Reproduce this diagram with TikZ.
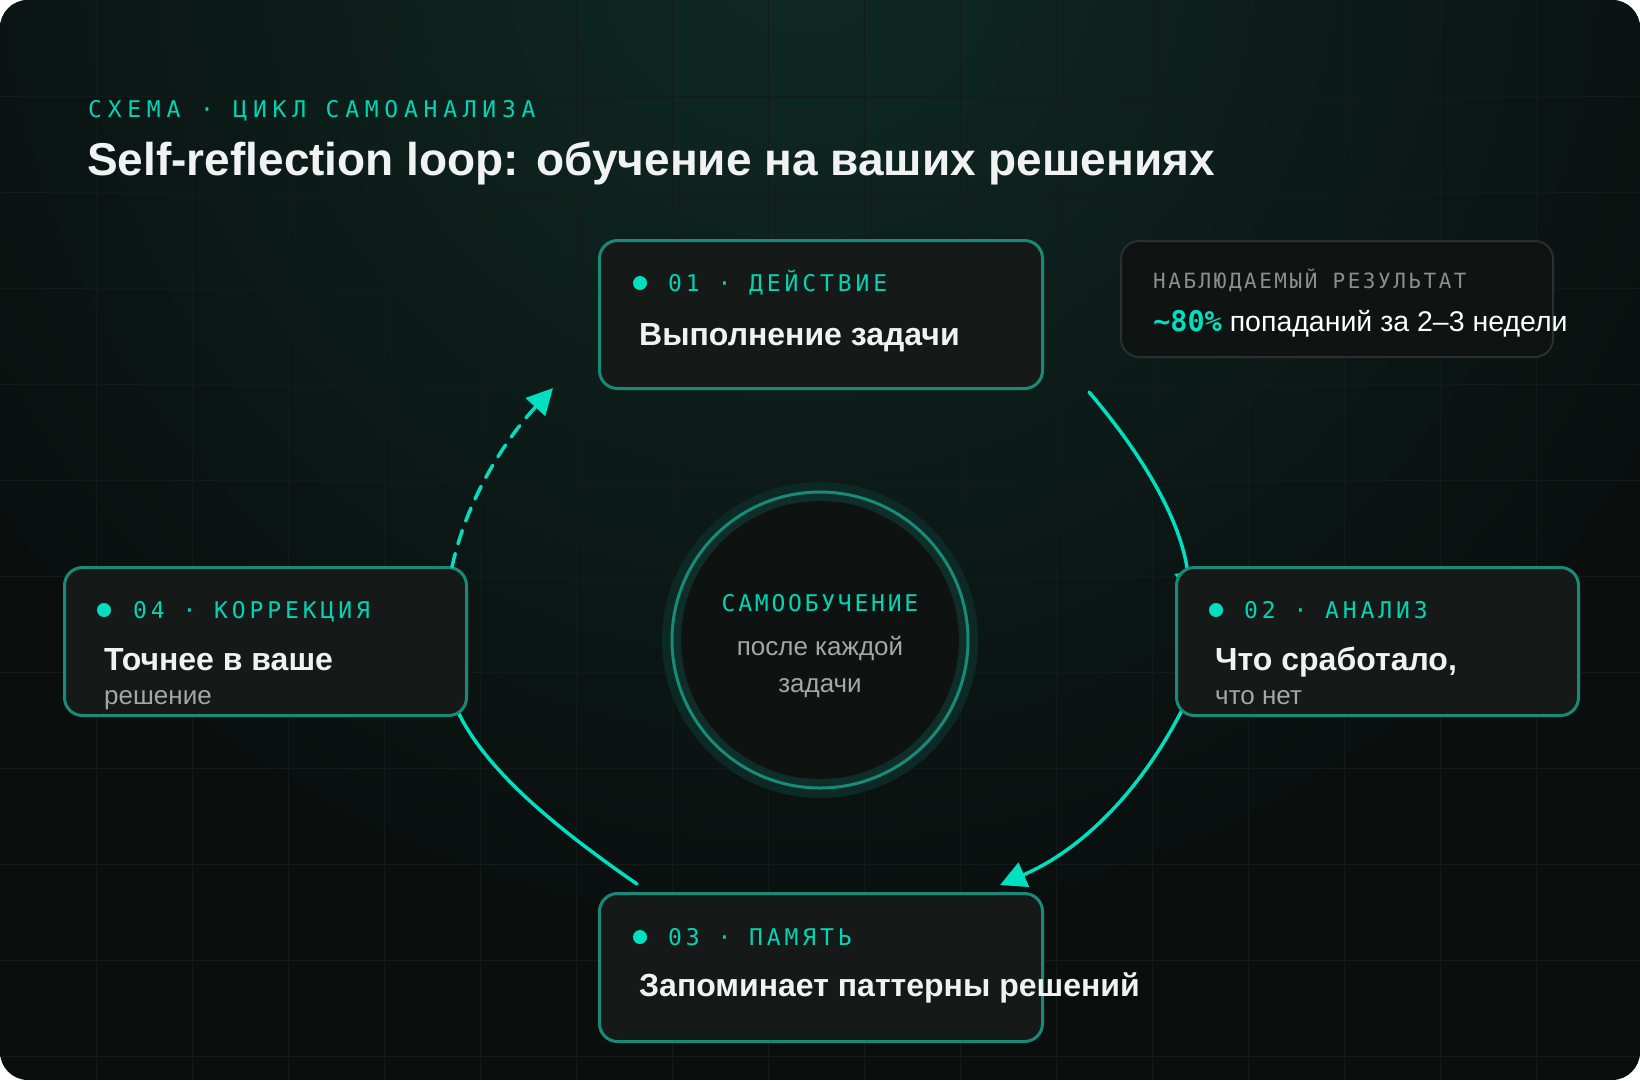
\documentclass[tikz,border=0pt]{standalone}
\usepackage{fontspec}
\setmainfont{Liberation Sans}
\newfontfamily\monoA[LetterSpace=25]{DejaVu Sans Mono}
\newfontfamily\monoB[LetterSpace=17]{DejaVu Sans Mono}
\newfontfamily\monoH[LetterSpace=12]{DejaVu Sans Mono}
\newfontfamily\monoC[LetterSpace=12]{DejaVu Sans Mono}
\newfontfamily\monoD{DejaVu Sans Mono}
\usetikzlibrary{arrows.meta,calc}
\definecolor{bgc}{HTML}{0A0F0E}
\definecolor{gridc}{HTML}{131B19}
\definecolor{glowc}{HTML}{0F2A25}
\definecolor{accent}{HTML}{00DFC0}
\definecolor{labteal}{HTML}{00D6B6}
\definecolor{cardfill}{HTML}{151A19}
\definecolor{cardline}{HTML}{1A8A78}
\definecolor{subgray}{HTML}{A3A8A6}
\definecolor{resgray}{HTML}{8A8F8D}
\definecolor{boxline}{HTML}{2A302E}
\definecolor{boxfill}{HTML}{0F1413}
\definecolor{ringout}{HTML}{0C2925}
\definecolor{ringband}{HTML}{0F2E29}
\definecolor{hubfill}{HTML}{0E1312}
\definecolor{titlec}{HTML}{F1F3F2}
\begin{document}
\begin{tikzpicture}[x=1pt,y=-1pt,
  card/.style={draw=cardline, line width=3pt, fill=cardfill, rounded corners=18pt, anchor=north west, inner sep=0pt},
  resbox/.style={draw=boxline, line width=2pt, fill=boxfill, rounded corners=18pt, anchor=north west, inner sep=0pt},
  txt/.style={anchor=base west, inner sep=0pt},
  steplab/.style={txt, text=labteal, font=\monoB\fontsize{23}{27}\selectfont},
  cardtitle/.style={txt, text=titlec, font=\bfseries\fontsize{32}{37}\selectfont},
  cardsub/.style={txt, text=subgray, font=\fontsize{26}{30}\selectfont},
  flow/.style={accent, line width=3.5pt, line cap=round, -{Triangle[length=26pt,width=26pt]}},
  dotmark/.style={circle, fill=accent, inner sep=0pt, minimum size=14pt}
]
\useasboundingbox (0,0) rectangle (1640,1080);
\fill[white] (0,0) rectangle (1640,1080);
\begin{scope}
\clip[rounded corners=28pt] (0,0) rectangle (1640,1080);
\fill[bgc] (0,0) rectangle (1640,1080);
\shade[inner color=glowc, outer color=bgc] (800,-60) circle (1000pt);
\foreach \gx in {96,192,...,1600} \draw[gridc, line width=1pt] (\gx,0) -- (\gx,1080);
\foreach \gy in {96,192,...,1060} \draw[gridc, line width=1pt] (0,\gy) -- (1640,\gy);
\end{scope}

% header
\node[txt, text=labteal, font=\monoA\fontsize{23}{27}\selectfont] (kicker) at (88,117) {СХЕМА · ЦИКЛ САМОАНАЛИЗА};
\node[txt, text=titlec, font=\bfseries\fontsize{46}{52}\selectfont] (title) at (87,175) {Self-reflection loop: обучение на ваших решениях};

% arrow endpoints
\coordinate (a1s) at (1089,392); \coordinate (a1e) at (1191,598);
\coordinate (a2s) at (1182,710); \coordinate (a2e) at (1000,885);
\coordinate (a3s) at (637,884);  \coordinate (a3e) at (445,681);
\coordinate (a4s) at (452,567);  \coordinate (a4e) at (553,388);

\draw[flow] (a1s) .. controls (1141,453) and (1181,519) .. (a1e);
\draw[flow] (a2s) .. controls (1141,790) and (1083,849) .. (a2e);
\draw[flow] (a3s) .. controls (559,830) and (481,768) .. (a3e);

% cards
\node[card, minimum width=443pt, minimum height=148pt] (c1) at (598,239) {};
\node[card, minimum width=402pt, minimum height=148pt] (c2) at (1175,566) {};
\node[card, minimum width=443pt, minimum height=148pt] (c3) at (598,892) {};
\node[card, minimum width=402pt, minimum height=148pt] (c4) at (63,566) {};

\draw[flow, dash pattern=on 14pt off 10pt] (a4s) .. controls (467,498) and (505,440) .. (a4e);

\node[dotmark] (d1) at ($(c1.north west)+(42,44)$) {};
\node[steplab] (l1) at ($(c1.north west)+(70,52)$) {01 · ДЕЙСТВИЕ};
\node[cardtitle] (t1) at ($(c1.north west)+(41,106)$) {Выполнение задачи};

\node[dotmark] (d2) at ($(c2.north west)+(41,44)$) {};
\node[steplab] (l2) at ($(c2.north west)+(69,52)$) {02 · АНАЛИЗ};
\node[cardtitle] (t2) at ($(c2.north west)+(40,104)$) {Что сработало,};
\node[cardsub] (s2) at ($(c2.north west)+(40,138)$) {что нет};

\node[dotmark] (d3) at ($(c3.north west)+(42,45)$) {};
\node[steplab] (l3) at ($(c3.north west)+(70,53)$) {03 · ПАМЯТЬ};
\node[cardtitle] (t3) at ($(c3.north west)+(41,104)$) {Запоминает паттерны решений};

\node[dotmark] (d4) at ($(c4.north west)+(41,44)$) {};
\node[steplab] (l4) at ($(c4.north west)+(70,52)$) {04 · КОРРЕКЦИЯ};
\node[cardtitle] (t4) at ($(c4.north west)+(41,104)$) {Точнее в ваше};
\node[cardsub] (s4) at ($(c4.north west)+(41,138)$) {решение};

% result box
\node[resbox, minimum width=432pt, minimum height=116pt] (res) at (1120,240) {};
\node[txt, text=resgray, font=\monoC\fontsize{21}{25}\selectfont] (reslab) at ($(res.north west)+(33,48)$) {НАБЛЮДАЕМЫЙ РЕЗУЛЬТАТ};
\node[txt, text=white, font=\fontsize{28.5}{32}\selectfont] (resval) at ($(res.north west)+(33,91)$) {{\monoD\bfseries\color{accent}\char"7E 80\%} попаданий за 2–3 недели};

% hub
\fill[ringout] (820,640) circle (158pt);
\node[circle, fill=ringband, draw=cardline, line width=3pt, minimum size=296pt, inner sep=0pt] (hub) at (820,640) {};
\fill[hubfill] (hub.center) circle (139pt);
\node[anchor=base, inner sep=0pt, text=labteal, font=\monoH\fontsize{23}{27}\selectfont] (hubk) at ($(hub.center)+(0,-29)$) {САМООБУЧЕНИЕ};
\node[anchor=base, inner sep=0pt, text=subgray, font=\fontsize{26}{30}\selectfont] (hubt1) at ($(hub.center)+(0,15)$) {после каждой};
\node[anchor=base, inner sep=0pt, text=subgray, font=\fontsize{26}{30}\selectfont] (hubt2) at ($(hub.center)+(0,52)$) {задачи};
\end{tikzpicture}
\end{document}
